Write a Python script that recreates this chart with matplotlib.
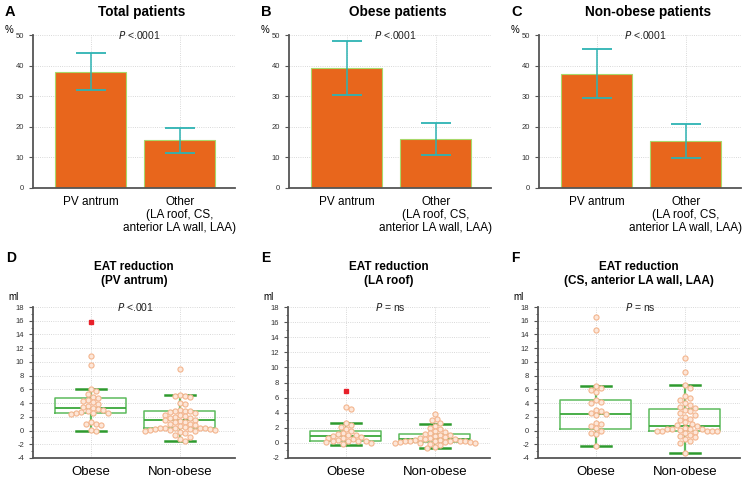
import matplotlib
matplotlib.use("Agg")
import matplotlib.pyplot as plt
import numpy as np

plt.rcParams["font.family"] = ["Liberation Sans", "DejaVu Sans"]
plt.rcParams["axes.unicode_minus"] = False

BAR_C = "#E8661C"
BAR_EDGE = "#A8D86A"
ERR_C = "#2DB3B3"
BOX_C = "#5DBB5D"
CAP_C = "#2E9A2E"
PT_EDGE = "#F3B58E"
PT_FACE = "#FDE6D8"
OUT_C = "#E8202A"
AX_C = "#555555"

# ---- top row: bar charts (%), mean with asymmetric CI
bar_cats = ["PV antrum", "Other\n(LA roof, CS,\nanterior LA wall, LAA)"]
total_val = [38.0, 15.7]
total_lo = [31.9, 11.4]
total_hi = [44.0, 19.6]
obese_val = [39.2, 16.1]
obese_lo = [30.3, 10.8]
obese_hi = [48.2, 21.3]
nonob_val = [37.3, 15.3]
nonob_lo = [29.4, 9.7]
nonob_hi = [45.3, 21.0]

# ---- bottom row: EAT reduction (ml)
box_cats = ["Obese", "Non-obese"]

d_obese = [10.9, 9.6, 6.0, 5.7, 5.3, 4.9, 4.8, 4.5, 4.3, 4.1, 3.9, 3.6, 3.4, 3.3, 3.1,
           3.0, 2.8, 2.7, 2.6, 2.5, 2.5, 2.4, 1.2, 1.0, 0.9, 0.8, 0.1, 0.0]
d_obese_out = [15.8]
d_non = [9.0, 5.2, 5.1, 5.0, 4.9, 4.0, 3.8, 3.0, 2.9, 2.8, 2.8, 2.7, 2.5, 2.3, 2.2, 2.1,
         2.0, 1.9, 1.8, 1.6, 1.5, 1.4, 1.3, 1.2, 1.0, 0.9, 0.8, 0.6, 0.5, 0.4, 0.4, 0.3,
         0.3, 0.3, 0.2, 0.2, 0.2, 0.1, 0.1, 0.1, 0.0, 0.0, -0.2, -0.3, -0.6, -0.9, -1.2, -1.5]
d_non_out = []
# q1, median, q3, whisker low, whisker high
d_box_obese = [2.5, 3.3, 4.8, 0.0, 6.1]
d_box_non = [0.3, 1.5, 2.9, -1.5, 5.2]

e_obese = [4.7, 4.5, 2.6, 2.4, 2.1, 1.9, 1.6, 1.3, 1.2, 1.1, 1.0, 0.9, 0.8, 0.7, 0.6, 0.5,
           0.4, 0.3, 0.3, 0.2, 0.2, 0.1, 0.0, -0.2]
e_obese_out = [6.9]
e_non = [3.8, 3.2, 3.0, 2.6, 2.3, 2.0, 1.8, 1.6, 1.5, 1.3, 1.2, 1.1, 1.0, 0.9, 0.8, 0.7,
         0.6, 0.5, 0.5, 0.4, 0.4, 0.3, 0.3, 0.3, 0.2, 0.2, 0.2, 0.1, 0.1, 0.1, 0.0, 0.0,
         0.0, -0.1, -0.3, -0.5, -0.7]
e_non_out = []
e_box_obese = [0.3, 0.9, 1.6, -0.3, 2.6]
e_box_non = [0.1, 0.5, 1.2, -0.7, 2.5]

f_obese = [16.5, 14.7, 6.5, 6.2, 5.9, 5.6, 4.4, 4.2, 4.0, 3.0, 2.8, 2.6, 2.4, 2.2, 1.1,
           0.9, 0.6, 0.3, 0.0, -0.3, -0.5, -2.3]
f_obese_out = []
f_non = [10.6, 8.6, 6.7, 6.2, 5.0, 4.8, 4.5, 4.0, 3.7, 3.5, 3.3, 3.0, 2.8, 2.5, 2.3, 2.0,
         1.7, 1.5, 1.2, 1.0, 0.8, 0.6, 0.4, 0.2, 0.2, 0.2, 0.2, 0.1, 0.0, 0.0, 0.0, 0.0,
         0.0, -0.2, -0.4, -0.6, -0.8, -1.0, -1.2, -1.5, -1.8, -3.2]
f_non_out = []
f_box_obese = [0.2, 2.4, 4.4, -2.3, 6.5]
f_box_non = [0.0, 0.7, 3.1, -3.2, 6.7]

W, H = 751, 479
fig = plt.figure(figsize=(W / 100, H / 100), dpi=100)

XLIM = (-0.65, 1.62)
AXW = 202


def make_ax(left_px, top_px, bottom_px):
    ax = fig.add_axes([left_px / W, 1 - bottom_px / H, AXW / W, (bottom_px - top_px) / H])
    for s in ("top", "right"):
        ax.spines[s].set_visible(False)
    for s in ("left", "bottom"):
        ax.spines[s].set_color(AX_C)
        ax.spines[s].set_linewidth(1.3)
    ax.set_xlim(*XLIM)
    ax.grid(True, ls=":", lw=0.6, color="#cccccc")
    ax.set_axisbelow(True)
    ax.tick_params(axis="y", labelsize=5.5, length=3, colors=AX_C, labelcolor="#333333")
    ax.tick_params(axis="x", length=0, labelsize=8.5, pad=6)
    return ax


def bar_panel(left_px, letter, title, vals, lo, hi):
    ax = make_ax(left_px, 35, 188)
    x = np.arange(len(vals))
    ax.bar(x, vals, width=0.8, color=BAR_C, edgecolor=BAR_EDGE, lw=0.8, zorder=2)
    v = np.array(vals)
    err = [v - np.array(lo), np.array(hi) - v]
    ax.errorbar(x, vals, yerr=err, fmt="none", ecolor=ERR_C, elinewidth=1.1,
                capsize=11, capthick=1.3, zorder=3)
    ax.set_ylim(0, 50)
    ax.set_yticks([0, 10, 20, 30, 40, 50])
    ax.set_xticks(x)
    ax.set_xticklabels(bar_cats, linespacing=1.1, va="top")
    ax.text(0.55, 50, r"$\mathit{P}$ <.0001", ha="center", va="center", fontsize=7.5,
            color="#222222")
    fig.text((left_px - 28) / W, 1 - 30 / H, "%", fontsize=7, ha="left", va="center")
    cx = (left_px + AXW / 2) / W
    fig.text(cx + 0.01, 1 - 12 / H, title, ha="center", va="center", fontsize=9.8,
             fontweight="bold")
    fig.text((left_px - 28) / W, 1 - 12 / H, letter, ha="left", va="center", fontsize=10.5,
             fontweight="bold")
    return ax


def swarm(vals, center, ypx, d=5.0, xpx=89):
    # simple beeswarm: offsets in pixel space, returned in data units
    placed = []
    xs = []
    for v in vals:
        y = v * ypx
        k = 0
        while True:
            cands = [0] if k == 0 else [k * d * 0.5, -k * d * 0.5]
            ok = None
            for c in cands:
                if all((c - px) ** 2 + (y - py) ** 2 >= d * d for px, py in placed):
                    ok = c
                    break
            if ok is not None:
                placed.append((ok, y))
                xs.append(center + ok / xpx)
                break
            k += 1
    return xs


def box_panel(left_px, letter, title, ylo, groups, boxes, outs, ptxt):
    top, bottom = 307, 458
    ax = make_ax(left_px, top, bottom)
    ax.set_ylim(ylo, 18)
    ax.set_yticks(np.arange(ylo, 19, 2))
    ax.set_yticks(np.arange(ylo + 1, 18, 2), minor=True)
    ax.tick_params(axis="y", which="minor", length=1.5, colors=AX_C)
    ax.grid(True, which="major", axis="y", ls=":", lw=0.6, color="#cccccc")
    ypx = (bottom - top) / (18 - ylo)
    stats = []
    for i, (b, g) in enumerate(zip(boxes, groups)):
        stats.append(dict(q1=b[0], med=b[1], q3=b[2], whislo=b[3], whishi=b[4],
                          fliers=[], label=box_cats[i]))
    ax.bxp(stats, positions=[0, 1], widths=0.8, showfliers=False, manage_ticks=False,
           boxprops=dict(color=BOX_C, lw=1.1),
           medianprops=dict(color="#3aa83a", lw=1.3),
           whiskerprops=dict(color=BOX_C, lw=1.6),
           capprops=dict(color=CAP_C, lw=1.8), capwidths=0.34, zorder=2)
    for i, g in enumerate(groups):
        xs = swarm(g, i, ypx)
        ax.plot(xs, g, "o", ms=3.7, mfc=PT_FACE, mec=PT_EDGE, mew=0.8, ls="none", zorder=3)
        if outs[i]:
            ax.plot([i] * len(outs[i]), outs[i], "s", ms=3, color=OUT_C, ls="none", zorder=4)
    ax.set_xticks([0, 1])
    ax.set_xticklabels(box_cats, fontsize=9.5)
    ax.text(0.5, 18, ptxt, ha="center", va="center", fontsize=7.5, color="#222222")
    fig.text((left_px - 25) / W, 1 - 297 / H, "ml", fontsize=7, ha="left", va="center")
    cx = (left_px + AXW / 2) / W
    fig.text(cx, 1 - 274 / H, title, ha="center", va="center", fontsize=8.5,
             fontweight="bold", linespacing=1.25)
    fig.text((left_px - 27) / W, 1 - 258 / H, letter, ha="left", va="center", fontsize=10,
             fontweight="bold")
    return ax


bar_panel(33, "A", "Total patients", total_val, total_lo, total_hi)
bar_panel(289, "B", "Obese patients", obese_val, obese_lo, obese_hi)
bar_panel(539, "C", "Non-obese patients", nonob_val, nonob_lo, nonob_hi)

box_panel(33, "D", "EAT reduction\n(PV antrum)", -4, [d_obese, d_non],
          [d_box_obese, d_box_non], [d_obese_out, d_non_out], r"$\mathit{P}$ <.001")
box_panel(288, "E", "EAT reduction\n(LA roof)", -2, [e_obese, e_non],
          [e_box_obese, e_box_non], [e_obese_out, e_non_out], r"$\mathit{P}$ = ns")
box_panel(538, "F", "EAT reduction\n(CS, anterior LA wall, LAA)", -4, [f_obese, f_non],
          [f_box_obese, f_box_non], [f_obese_out, f_non_out], r"$\mathit{P}$ = ns")

fig.savefig("out.png", dpi=100)
